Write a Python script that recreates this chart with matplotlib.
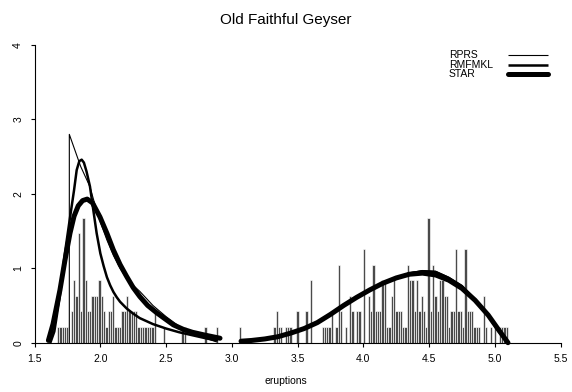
import matplotlib
matplotlib.use("Agg")
import matplotlib.pyplot as plt
import numpy as np

plt.rcParams['font.family'] = ['Liberation Sans', 'DejaVu Sans']

# fine histogram of eruption times: bins of width 0.0175 starting at 1.6
bin_start = 1.6
bin_width = 0.0175
count_height = 0.21  # density of a single observation in one bin

left_bins = [4, 5, 6, 7, 8, 10, 11, 12, 13, 14, 15, 16, 17, 18, 19, 20, 21, 22, 23,
             24, 25, 26, 27, 28, 29, 30, 31, 32, 33, 34, 35, 36, 37, 38, 39, 40, 41,
             42, 43, 44, 45, 46, 50, 58, 59, 68, 73, 83]
left_counts = [1, 1, 1, 1, 1, 2, 4, 3, 7, 2, 8, 4, 2, 2, 3, 3, 3, 4, 3,
               2, 1, 2, 2, 3, 1, 1, 1, 2, 2, 3, 2, 2, 2, 2, 1, 1, 1,
               1, 1, 1, 1, 2, 1, 1, 1, 1, 1, 1]

right_bins = [98, 99, 100, 101, 103, 104, 105, 108, 112, 114, 119, 120, 121, 122, 123,
              125, 126, 127, 129, 131, 132, 134, 135, 137, 139, 140, 141, 142, 143, 144,
              145, 146, 147, 148, 149, 150, 151, 152, 153, 154, 155, 156, 157, 158, 159,
              160, 161, 162, 163, 164, 165, 166, 167, 168, 169, 170, 171, 172, 173, 174,
              175, 176, 177, 178, 179, 180, 181, 182, 183, 184, 185, 186, 187, 189, 190,
              192, 194, 196, 197, 198, 199]
right_counts = [1, 2, 1, 1, 1, 1, 1, 2, 2, 4, 1, 1, 1, 1, 2,
                1, 5, 2, 1, 3, 2, 2, 2, 6, 3, 2, 5, 2, 2, 2,
                4, 4, 1, 1, 3, 4, 2, 2, 2, 1, 1, 5, 4, 4, 2,
                4, 2, 3, 2, 1, 8, 2, 5, 3, 2, 4, 4, 3, 3, 1,
                2, 2, 6, 2, 2, 1, 6, 2, 2, 2, 1, 1, 1, 3, 1,
                1, 1, 1, 1, 1, 1]

# density estimates, short eruptions
rprs_x1 = [1.764, 1.764, 1.80, 1.85, 1.92, 1.96, 2.0, 2.05, 2.1, 2.15, 2.2, 2.25,
           2.3, 2.4, 2.5, 2.6, 2.7, 2.8, 2.885]
rprs_y1 = [0.0, 2.8, 2.62, 2.37, 2.1, 1.85, 1.62, 1.38, 1.17, 1.0, 0.86, 0.77,
           0.69, 0.50, 0.35, 0.22, 0.13, 0.06, 0.01]
rmf_x1 = [1.62, 1.65, 1.69, 1.73, 1.77, 1.80, 1.82, 1.84, 1.858, 1.875, 1.895, 1.921,
          1.945, 1.972, 2.0, 2.025, 2.05, 2.075, 2.1, 2.125, 2.15, 2.2, 2.25, 2.3,
          2.4, 2.5, 2.6, 2.7, 2.8, 2.885]
rmf_y1 = [0.0, 0.15, 0.6, 1.2, 1.69, 2.05, 2.32, 2.44, 2.46, 2.42, 2.3, 2.1,
          1.8, 1.47, 1.2, 1.03, 0.88, 0.77, 0.68, 0.61, 0.55, 0.46, 0.39, 0.33,
          0.25, 0.19, 0.14, 0.10, 0.06, 0.03]
star_x1 = [1.605, 1.64, 1.693, 1.73, 1.769, 1.80, 1.832, 1.865, 1.90, 1.94, 1.997, 2.05,
           2.098, 2.15, 2.2, 2.25, 2.30, 2.36, 2.43, 2.50, 2.555, 2.63, 2.7, 2.8, 2.91]
star_y1 = [0.03, 0.25, 0.71, 1.1, 1.47, 1.70, 1.84, 1.91, 1.93, 1.88, 1.69, 1.47,
           1.25, 1.05, 0.89, 0.74, 0.62, 0.50, 0.40, 0.31, 0.24, 0.18, 0.14, 0.10, 0.06]

# density estimates, long eruptions
star_x2 = [3.07, 3.15, 3.25, 3.35, 3.45, 3.55, 3.65, 3.75, 3.85, 3.95, 4.05, 4.15,
           4.25, 4.35, 4.45, 4.55, 4.65, 4.75, 4.85, 4.95, 5.03, 5.1]
star_y2 = [0.02, 0.03, 0.05, 0.08, 0.13, 0.19, 0.27, 0.38, 0.50, 0.61, 0.71, 0.80,
           0.87, 0.92, 0.935, 0.91, 0.84, 0.73, 0.57, 0.37, 0.17, 0.0]
rprs_x2 = [3.07, 3.15, 3.25, 3.35, 3.45, 3.55, 3.65, 3.75, 3.85, 3.95, 4.05, 4.15,
           4.25, 4.35, 4.45, 4.55, 4.65, 4.75, 4.85, 4.95, 5.03, 5.1]
rprs_y2 = [0.02, 0.03, 0.05, 0.08, 0.13, 0.19, 0.27, 0.38, 0.50, 0.61, 0.71, 0.80,
           0.88, 0.94, 0.97, 0.96, 0.88, 0.77, 0.59, 0.37, 0.15, 0.0]
rmf_x2 = [3.07, 3.15, 3.25, 3.35, 3.45, 3.55, 3.65, 3.75, 3.85, 3.95, 4.05, 4.15,
          4.25, 4.35, 4.45, 4.55, 4.65, 4.75, 4.85, 4.95, 5.03, 5.1]
rmf_y2 = [0.02, 0.03, 0.05, 0.08, 0.13, 0.19, 0.27, 0.38, 0.50, 0.61, 0.71, 0.80,
          0.87, 0.93, 0.96, 0.95, 0.87, 0.76, 0.58, 0.36, 0.15, 0.0]

labels = ["RPRS", "RMFMKL", "STAR"]
widths = [0.8, 1.8, 3.6]

fig = plt.figure(figsize=(5.72, 3.92), dpi=100)
ax = fig.add_axes([0.0605, 0.1258, 0.9195, 0.7592])

bins = left_bins + right_bins
counts = left_counts + right_counts
edges = [bin_start + b * bin_width for b in bins]
heights = [c * count_height for c in counts]
ax.bar(edges, heights, width=bin_width, align='edge', color='#4a4a4a',
       edgecolor='white', linewidth=0.45)

curves = [(rprs_x1, rprs_y1, rprs_x2, rprs_y2),
          (rmf_x1, rmf_y1, rmf_x2, rmf_y2),
          (star_x1, star_y1, star_x2, star_y2)]
for (x1, y1, x2, y2), lw in zip(curves, widths):
    ax.plot(x1, y1, color='black', lw=lw, solid_capstyle='round', clip_on=False)
    ax.plot(x2, y2, color='black', lw=lw, solid_capstyle='round', clip_on=False)

ax.set_xlim(1.5, 5.5)
ax.set_ylim(0, 4)
ax.spines['top'].set_visible(False)
ax.spines['right'].set_visible(False)
ax.set_xticks(np.arange(1.5, 5.51, 0.5))
ax.set_xticklabels([f"{t:.1f}" for t in np.arange(1.5, 5.51, 0.5)])
ax.set_yticks(range(5))
ax.set_yticklabels([str(t) for t in range(5)], rotation=90, va='center')
ax.tick_params(direction='out', length=3.2, width=0.8, labelsize=7.5)
ax.tick_params(axis='x', pad=5)
ax.tick_params(axis='y', pad=5)

fig.text(0.5, 1 - 20 / 392, "Old Faithful Geyser", ha='center', va='center', fontsize=11)
fig.text(0.5, 1 - 381 / 392, "eruptions", ha='center', va='center', fontsize=7.5)

# legend without a frame, labels on the left, line samples on the right
for i, (lab, lw) in enumerate(zip(labels, widths)):
    yy = 1 - (55 + 9.5 * i) / 392
    fig.text(449 / 572, yy, lab, ha='left', va='center', fontsize=7.5)
    fig.add_artist(plt.Line2D([508 / 572, 548 / 572], [yy, yy], color='black', lw=lw,
                              solid_capstyle='round' if lw > 2 else 'butt'))

fig.savefig("out.png", dpi=100)
